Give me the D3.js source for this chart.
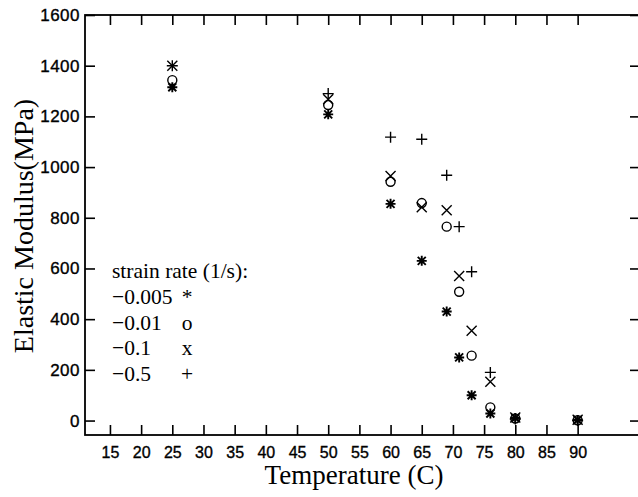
<!DOCTYPE html>
<html>
<head>
<meta charset="utf-8">
<script src="https://cdn.jsdelivr.net/npm/d3@7"></script>
<style>
  html, body { margin: 0; padding: 0; background: #fff; }
  svg { display: block; }
</style>
</head>
<body>
<svg id="chart" width="638" height="497"></svg>
<script>
// Test temperatures (C)
const temperatures = [25, 50, 60, 65, 69, 71, 73, 76, 80, 90];

// Elastic modulus (MPa) for each strain rate
const modulusRate0005 = [1315, 1208, 855, 630, 430, 249, 100, 28, 10, 2];
const modulusRate001  = [1343, 1245, 942, 858, 765, 508, 256, 52, 8, 1];
const modulusRate01   = [1400, 1268, 965, 842, 830, 570, 354, 153, 12, 3];
const modulusRate05   = [1400, 1290, 1118, 1110, 968, 765, 587, 190, 6, 0];

const legendLabels = ["\u22120.005", "\u22120.01", "\u22120.1", "\u22120.5"];
const legendSymbols = ["*", "o", "x", "+"];
const markerTypes = ["star", "circle", "cross", "plus"];

const xTicks = [15, 20, 25, 30, 35, 40, 45, 50, 55, 60, 65, 70, 75, 80, 85, 90];
const yTicks = [0, 200, 400, 600, 800, 1000, 1200, 1400, 1600];

const seriesValues = [modulusRate0005, modulusRate001, modulusRate01, modulusRate05];

const svg = d3.select("#chart");
const plot = { left: 85, right: 640, top: 15, bottom: 435 };

const x = d3.scaleLinear().domain([11, 100]).range([plot.left, plot.right]);
const y = d3.scaleLinear().domain([-57, 1600]).range([plot.bottom, plot.top]);

const sans = "'Liberation Sans', Arial, Helvetica, sans-serif";
const serif = "'Liberation Serif', 'Times New Roman', Times, serif";

// Frame
svg.append("rect")
  .attr("x", plot.left).attr("y", plot.top)
  .attr("width", plot.right - plot.left).attr("height", plot.bottom - plot.top)
  .attr("fill", "none").attr("stroke", "#000").attr("stroke-width", 1.8);

function styleAxis(g, fontSize, spacing) {
  g.select(".domain").remove();
  g.selectAll(".tick line").attr("stroke", "#000").attr("stroke-width", 1.6);
  g.selectAll(".tick text")
    .attr("fill", "#000")
    .attr("stroke", "#000")
    .attr("stroke-width", 0.35)
    .style("font-family", sans)
    .style("font-size", fontSize + "px")
    .style("letter-spacing", spacing + "px");
}

// Bottom axis with labels, ticks pointing inward
const gx = svg.append("g")
  .attr("transform", `translate(0,${plot.bottom})`)
  .call(d3.axisBottom(x).tickValues(xTicks).tickSizeInner(-10).tickSizeOuter(0).tickPadding(12).tickFormat(d3.format("d")));
styleAxis(gx, 16, 0);

// Top axis: ticks only
const gxTop = svg.append("g")
  .attr("transform", `translate(0,${plot.top})`)
  .call(d3.axisTop(x).tickValues(xTicks).tickSizeInner(-10).tickSizeOuter(0).tickFormat(""));
styleAxis(gxTop, 16, 0);

// Left axis with labels
const gy = svg.append("g")
  .attr("transform", `translate(${plot.left},0)`)
  .call(d3.axisLeft(y).tickValues(yTicks).tickSizeInner(-10).tickSizeOuter(0).tickPadding(5).tickFormat(d3.format("d")));
styleAxis(gy, 17, 0.5);

// Right axis: ticks only
const gyRight = svg.append("g")
  .attr("transform", `translate(${plot.right},0)`)
  .call(d3.axisRight(y).tickValues(yTicks).tickSizeInner(-10).tickSizeOuter(0).tickFormat(""));
styleAxis(gyRight, 16, 0);

// Axis titles
svg.append("text")
  .attr("x", 354).attr("y", 484)
  .attr("text-anchor", "middle")
  .style("font-family", serif).style("font-size", "27px")
  .text("Temperature (C)");

svg.append("text")
  .attr("transform", "translate(33,226) rotate(-90)")
  .attr("text-anchor", "middle")
  .style("font-family", serif).style("font-size", "28px")
  .text("Elastic Modulus(MPa)");

// Marker shapes
function markerPath(type) {
  const s = 5;
  const p = d3.path();
  if (type === "circle") {
    p.moveTo(s - 0.5, 0);
    p.arc(0, 0, s - 0.5, 0, 2 * Math.PI);
  } else if (type === "cross") {
    p.moveTo(-s, -s); p.lineTo(s, s);
    p.moveTo(-s, s); p.lineTo(s, -s);
  } else if (type === "plus") {
    p.moveTo(-s - 0.5, 0); p.lineTo(s + 0.5, 0);
    p.moveTo(0, -s - 0.5); p.lineTo(0, s + 0.5);
  } else {
    const d = s * 0.8;
    p.moveTo(-s, 0); p.lineTo(s, 0);
    p.moveTo(0, -s); p.lineTo(0, s);
    p.moveTo(-d, -d); p.lineTo(d, d);
    p.moveTo(-d, d); p.lineTo(d, -d);
  }
  return p.toString();
}

const points = [];
seriesValues.forEach((vals, si) => {
  vals.forEach((v, i) => points.push({ t: temperatures[i], v, type: markerTypes[si] }));
});

svg.append("g")
  .selectAll("path")
  .data(points)
  .join("path")
  .attr("transform", d => `translate(${x(d.t)},${y(d.v)})`)
  .attr("d", d => markerPath(d.type))
  .attr("fill", "none")
  .attr("stroke", "#000")
  .attr("stroke-width", d => d.type === "star" ? 1.9 : 1.4);

// Legend as text block
const legend = svg.append("g")
  .style("font-family", serif).style("font-size", "21.5px").attr("fill", "#000");

legend.append("text").attr("x", 112).attr("y", 278).text("strain rate (1/s):");
legendLabels.forEach((lab, i) => {
  const yy = 304 + i * 25.7;
  legend.append("text").attr("x", 112).attr("y", yy).text(lab);
  legend.append("text").attr("x", 187).attr("y", yy).attr("text-anchor", "middle").text(legendSymbols[i]);
});
</script>
</body>
</html>
